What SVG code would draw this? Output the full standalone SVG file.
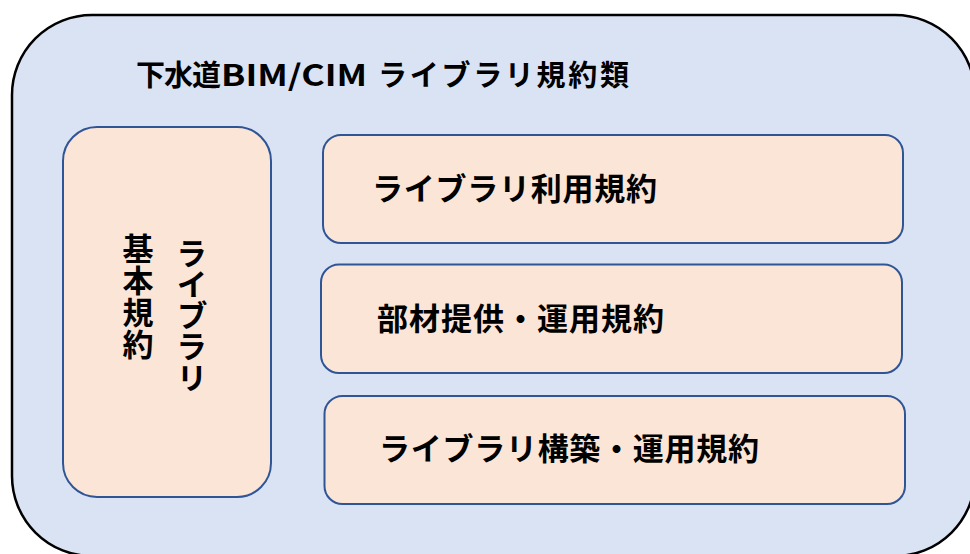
<svg xmlns="http://www.w3.org/2000/svg" width="970" height="554" viewBox="0 0 970 554">
<style>
.outer{fill:#DAE3F3;stroke:#000;stroke-width:2.5}
.box{fill:#FBE5D6;stroke:#2F5597;stroke-width:2}
.t{font-family:"Noto Sans CJK JP","Noto Sans",sans-serif;font-weight:bold;font-size:31px;fill:#000}
.h{font-size:29px}
.v{writing-mode:vertical-rl;text-orientation:upright}
</style>
<rect width="970" height="554" fill="#fff"/>
<g id="outer">
<rect class="outer" x="12" y="15" width="963" height="541" rx="80" ry="80"/>
<text class="t h" y="85.5"><tspan x="136" textLength="85">下水道</tspan><tspan x="221" textLength="146" lengthAdjust="spacingAndGlyphs">BIM/CIM</tspan><tspan x="378" textLength="251">ライブラリ規約類</tspan></text>
</g>
<g id="basic">
<rect class="box" x="63" y="127" width="208" height="370" rx="34" ry="34"/>
<text class="t v" x="192" y="237.5">ライブラリ</text>
<text class="t v" x="138" y="232.5" letter-spacing="1">基本規約</text>
</g>
<g id="use">
<rect class="box" x="323" y="135" width="580" height="108" rx="18" ry="18"/>
<text class="t" x="372" y="199.5" textLength="285">ライブラリ利用規約</text>
</g>
<g id="parts">
<rect class="box" x="321" y="264.5" width="581" height="108.5" rx="18" ry="18"/>
<text class="t" x="377" y="329.5" textLength="287">部材提供・運用規約</text>
</g>
<g id="build">
<rect class="box" x="324.5" y="396" width="580.5" height="108" rx="18" ry="18"/>
<text class="t" x="379" y="459.5" textLength="380">ライブラリ構築・運用規約</text>
</g>
<g id="connectors"></g>
</svg>
